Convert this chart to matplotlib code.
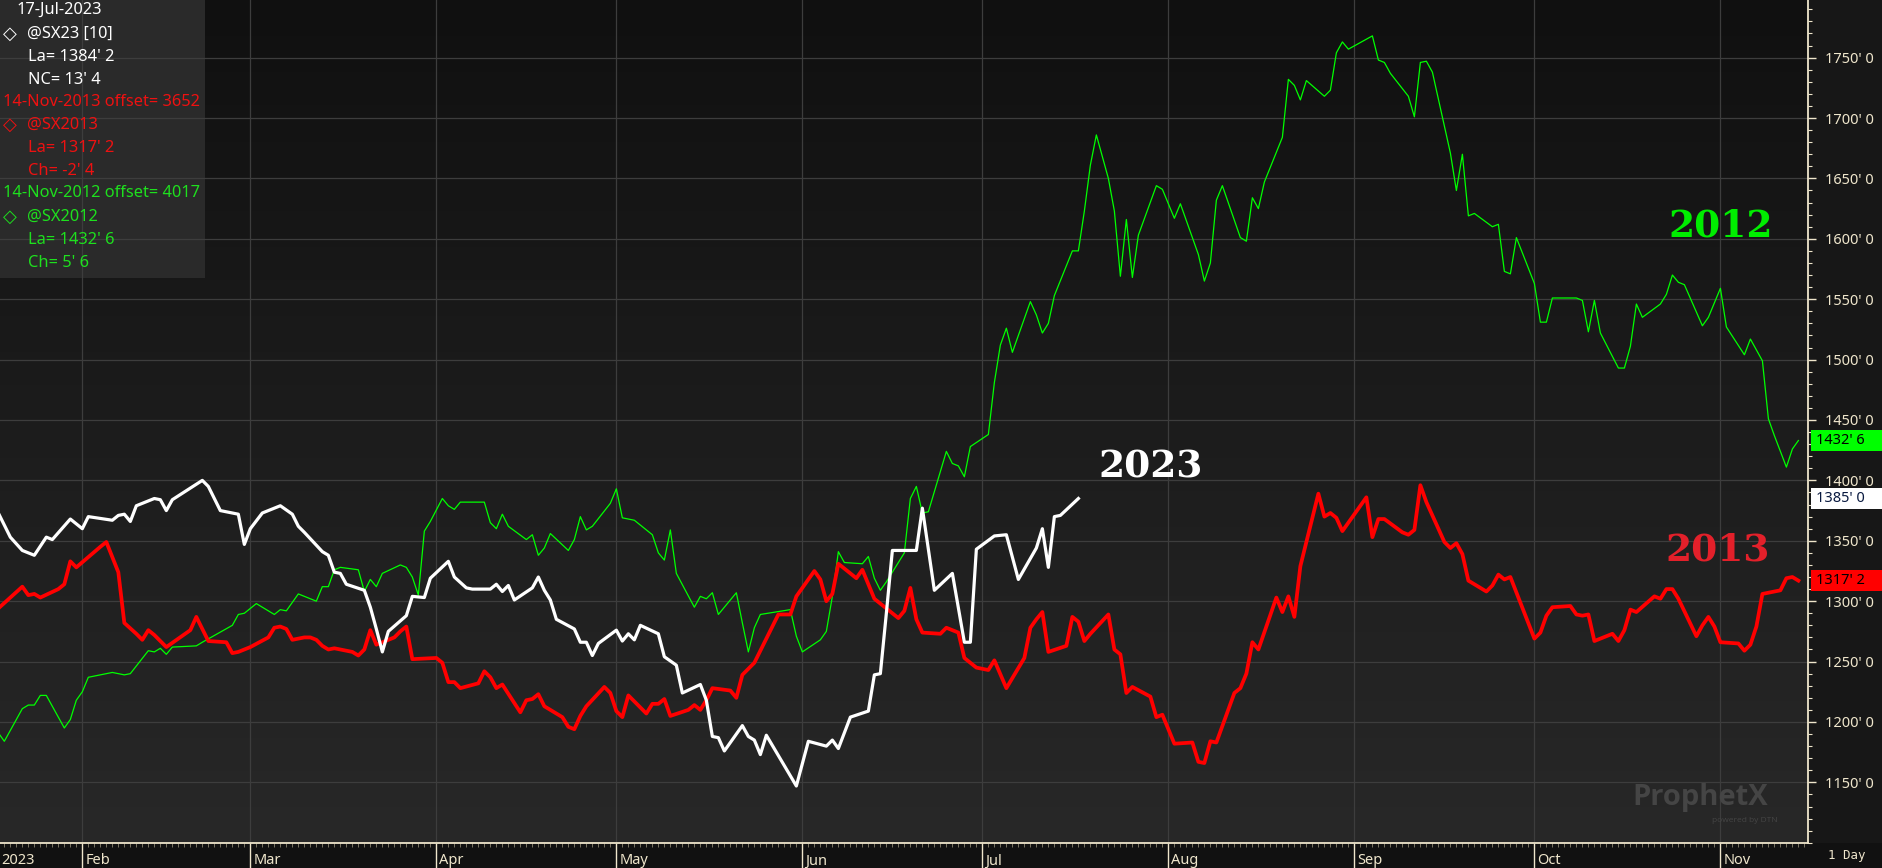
import matplotlib
matplotlib.use('Agg')
import matplotlib.pyplot as plt
import numpy as np
import matplotlib.transforms as mtransforms
from matplotlib.ticker import FuncFormatter, MultipleLocator, FixedLocator
from matplotlib.colors import LinearSegmentedColormap
from matplotlib.patches import Rectangle

# ---------------- data (x = day of year 2023, y = cents/bu) ----------------
white_day = [18,20,22,24,26,27,30,32,33,37,38,39,40,41,44,45,46,47,52,53,55,58,59,60,62,65,67,68,69,72,73,74,75,76,79,80,81,82,83,86,87,89,90,93,94,96,97,100,101,102,103,104,107,108,109,110,111,114,115,116,117,118,121,122,123,124,125,128,129,131,132,135,136,137,138,139,142,143,144,145,146,151,153,156,157,158,160,163,164,165,166,167,171,172,174,177,179,180,181,184,186,188,191,192,193,194,195,198]
white_val = [1373,1353,1342,1338,1353,1351,1368,1360,1370,1367,1371,1372,1366,1379,1385,1384,1375,1384,1400,1395,1375,1372,1347,1360,1373,1379,1372,1362,1357,1341,1338,1324,1323,1314,1309,1295,1277,1258,1275,1288,1304,1303,1319,1333,1320,1311,1310,1310,1314,1308,1313,1301,1311,1320,1309,1301,1285,1277,1266,1266,1255,1265,1276,1267,1273,1268,1280,1273,1254,1247,1224,1231,1218,1188,1187,1176,1197,1188,1185,1173,1189,1147,1184,1180,1185,1178,1204,1209,1239,1240,1290,1342,1342,1377,1309,1323,1266,1266,1343,1354,1355,1318,1344,1360,1328,1370,1371,1385]

green_day = [18,19,22,23,24,25,26,29,30,31,32,33,35,37,39,40,43,44,45,46,47,51,52,57,58,59,61,64,65,66,68,71,72,73,74,75,78,79,80,81,82,85,86,87,88,89,90,92,93,94,95,99,100,101,102,103,106,107,108,109,110,113,114,115,116,117,120,121,122,124,127,128,129,130,131,134,135,136,137,138,141,142,143,144,145,150,151,152,155,156,157,158,159,162,163,164,165,166,169,170,171,172,173,176,177,178,179,180,183,184,185,186,187,190,191,192,193,194,197,198,199,200,201,203,204,205,206,207,208,211,212,214,215,218,219,220,221,222,225,226,227,228,229,232,233,234,235,236,239,240,241,242,243,247,248,249,250,253,254,255,256,257,260,261,262,263,264,267,268,269,270,271,274,275,276,277,281,282,283,284,285,288,289,290,291,292,295,296,297,298,299,302,303,305,306,309,310,311,312,313,314,316,317,318]
green_val = [1191,1184,1211,1214,1214,1222,1222,1195,1202,1218,1225,1237,1239,1241,1239,1240,1259,1258,1261,1256,1262,1263,1266,1280,1289,1290,1298,1289,1293,1292,1306,1300,1312,1312,1326,1328,1326,1308,1318,1312,1323,1330,1328,1320,1305,1358,1366,1385,1379,1376,1382,1382,1365,1360,1372,1362,1351,1355,1338,1344,1356,1342,1351,1370,1359,1362,1381,1393,1369,1367,1355,1340,1334,1359,1323,1295,1304,1302,1307,1289,1307,1282,1258,1278,1289,1293,1271,1258,1268,1275,1304,1341,1332,1331,1337,1319,1309,1316,1340,1385,1395,1373,1374,1424,1414,1412,1403,1428,1438,1481,1512,1526,1506,1548,1537,1522,1530,1553,1590,1590,1623,1661,1686,1650,1623,1569,1616,1568,1603,1644,1641,1617,1629,1587,1565,1580,1632,1644,1601,1598,1634,1625,1647,1684,1732,1727,1715,1731,1718,1723,1754,1763,1757,1768,1748,1746,1737,1718,1701,1746,1747,1738,1671,1640,1670,1619,1621,1610,1612,1573,1571,1601,1563,1531,1531,1551,1551,1549,1523,1549,1522,1493,1493,1511,1546,1535,1546,1554,1570,1564,1562,1528,1535,1559,1527,1504,1517,1508,1499,1451,1437,1411,1426,1433]

red_day = [18,22,23,24,25,28,29,30,31,35,36,38,39,41,42,43,44,46,50,51,53,56,57,58,60,63,64,65,66,67,69,70,71,72,73,74,77,78,79,80,81,84,85,86,87,91,92,93,94,95,98,99,100,101,102,105,106,107,108,109,112,113,114,115,116,119,120,121,122,123,126,127,128,129,130,133,134,135,136,137,140,141,142,144,148,150,151,154,155,156,157,158,161,162,164,165,168,169,170,171,172,175,176,178,179,181,183,184,186,189,190,191,192,193,196,197,198,199,200,203,204,205,206,207,210,211,212,214,217,218,219,220,221,224,225,226,227,228,231,232,233,234,235,238,239,240,241,242,246,247,248,249,252,253,254,255,256,259,260,261,262,263,266,267,268,269,270,274,275,276,277,280,281,282,283,284,287,288,289,290,291,294,295,296,297,298,301,302,303,304,305,308,309,310,311,312,313,315,316,317,318]
red_val = [1294,1312,1305,1306,1303,1310,1314,1333,1328,1345,1349,1324,1282,1273,1268,1276,1272,1262,1276,1287,1267,1266,1257,1258,1262,1270,1278,1279,1277,1268,1270,1270,1268,1263,1260,1261,1258,1255,1260,1276,1264,1270,1275,1279,1252,1253,1249,1233,1233,1228,1232,1242,1237,1228,1231,1208,1218,1219,1223,1213,1204,1196,1194,1205,1213,1229,1224,1209,1204,1222,1207,1215,1215,1219,1205,1210,1214,1210,1218,1228,1226,1220,1239,1249,1289,1289,1304,1325,1318,1300,1306,1331,1319,1326,1302,1298,1286,1292,1311,1285,1274,1273,1278,1274,1253,1245,1243,1251,1228,1253,1278,1285,1291,1258,1263,1287,1283,1267,1273,1289,1260,1256,1224,1229,1221,1204,1206,1182,1183,1167,1166,1184,1183,1224,1228,1240,1266,1260,1303,1291,1304,1287,1329,1389,1370,1373,1369,1358,1386,1353,1368,1368,1357,1355,1359,1396,1382,1349,1344,1348,1339,1317,1308,1313,1322,1318,1320,1269,1274,1288,1295,1296,1289,1288,1289,1267,1273,1267,1276,1293,1291,1304,1302,1310,1310,1302,1271,1280,1287,1279,1266,1265,1259,1264,1279,1306,1307,1309,1319,1320,1317]

month_days = [32, 60, 91, 121, 152, 182, 213, 244, 274, 305]
month_labels = ['Feb', 'Mar', 'Apr', 'May', 'Jun', 'Jul', 'Aug', 'Sep', 'Oct', 'Nov']
price_ticks = [1150, 1200, 1250, 1300, 1350, 1400, 1450, 1500, 1550, 1600, 1650, 1700, 1750]

last_values = [(1432.75, "1432' 6", '#00ff00', '#000000'),
               (1385.0, "1385' 0", '#ffffff', '#0a1a40'),
               (1317.25, "1317' 2", '#ff0000', '#000000')]

legend_lines = [
    ("17-Jul-2023", '#ffffff', 16, 10, False),
    ("@SX23 [10]", '#ffffff', 27, 34, True),
    ("La= 1384' 2", '#ffffff', 28, 57, False),
    ("NC= 13' 4", '#ffffff', 28, 80, False),
    ("14-Nov-2013 offset= 3652", '#ee1111', 3, 102, False),
    ("@SX2013", '#ee1111', 27, 125, True),
    ("La= 1317' 2", '#ee1111', 28, 148, False),
    ("Ch= -2' 4", '#ee1111', 28, 171, False),
    ("14-Nov-2012 offset= 4017", '#1ee01e', 3, 193, False),
    ("@SX2012", '#1ee01e', 27, 217, True),
    ("La= 1432' 6", '#1ee01e', 28, 240, False),
    ("Ch= 5' 6", '#1ee01e', 28, 263, False),
]

# ---------------- figure ----------------
W, H = 1883, 868
cream = '#efe6cc'
fig = plt.figure(figsize=(W / 100, H / 100), dpi=100, facecolor='#171717')
ax = fig.add_axes([0, 25 / H, 1808 / W, 843 / H])

cmap = LinearSegmentedColormap.from_list('bg', ['#282828', '#101010'])
ax.imshow(np.linspace(0, 1, 256).reshape(-1, 1), extent=[0, 1, 0, 1],
          transform=ax.transAxes, cmap=cmap, aspect='auto', origin='lower', zorder=0)

# bottom strip (behind the axes)
fig.patches.append(Rectangle((0, 0), 1, 25 / H, transform=fig.transFigure,
                             facecolor='#111111', edgecolor='none', zorder=-5))

ax.plot(green_day, green_val, color='#00ff00', lw=0.9, zorder=3)
ax.plot(red_day, red_val, color='#ff0000', lw=2.7, zorder=4)
ax.plot(white_day, white_val, color='#ffffff', lw=2.3, zorder=5)

ax.set_xlim(18.28, 319.6)
ax.set_ylim(1099.8, 1797.7)

# grid
ax.set_axisbelow('line')
ax.grid(True, color='#3d3d3d', lw=0.9)
ax.yaxis.set_major_locator(FixedLocator(price_ticks))
ax.yaxis.set_minor_locator(MultipleLocator(10))
ax.set_xticks(month_days)
ax.xaxis.set_minor_locator(MultipleLocator(1))

# legend box
ax.add_patch(Rectangle((0, 1 - 278 / 843), 205 / 1808, 278 / 843, transform=ax.transAxes,
                       facecolor='#2a2a2a', edgecolor='none', zorder=1))

# spines
for s in ['top', 'left']:
    ax.spines[s].set_visible(False)
ax.spines['right'].set_color(cream)
ax.spines['right'].set_linewidth(1.3)
ax.spines['bottom'].set_color(cream)
ax.spines['bottom'].set_linewidth(1.3)

ax.yaxis.tick_right()
ax.yaxis.set_major_formatter(FuncFormatter(lambda v, p: f"{int(round(v))}' 0"))
ax.tick_params(axis='y', which='major', length=6, width=1, color=cream, labelcolor=cream,
               labelsize=10.5, pad=6)
ax.tick_params(axis='y', which='minor', length=3, width=0.8, color=cream)
ax.tick_params(axis='x', which='major', length=18, width=1, color=cream, labelbottom=False)
ax.tick_params(axis='x', which='minor', length=3, width=0.6, color='#8a8470')
for lab in ax.get_yticklabels():
    lab.set_fontfamily('Noto Sans')

# month labels
mtr = mtransforms.blended_transform_factory(ax.transData, ax.transAxes) + \
    mtransforms.ScaledTranslation(3 / 100, 0, fig.dpi_scale_trans)
for d, lab in zip(month_days, month_labels):
    ax.text(d, -18 / 843, lab, transform=mtr, color=cream, fontsize=10.5, family='Noto Sans',
            ha='left', va='center', clip_on=False)

fig.text(1 / W, 1 - 861 / H, '2023', color=cream, fontsize=10.5, family='Noto Sans',
         ha='left', va='center')
fig.text(1828 / W, 1 - 856 / H, '1 Day', color=cream, fontsize=9, family='DejaVu Sans Mono',
         ha='left', va='center')

# last value boxes
btr_fig = mtransforms.blended_transform_factory(fig.transFigure, ax.transData)
btr = mtransforms.blended_transform_factory(ax.transAxes, ax.transData)
for val, txt, fc, tc in last_values:
    ax.add_patch(Rectangle((1811 / W, val - 8.6), 72 / W, 17.2, transform=btr_fig,
                           facecolor=fc, edgecolor='none', clip_on=False, zorder=9))
    ax.text(1.0 + 8 / 1808, val, txt, transform=btr, ha='left', va='center',
            fontsize=10.5, family='Noto Sans', color=tc, clip_on=False, zorder=10)

# big labels
ax.text(210, 1411, '2023', color='#ffffff', fontsize=27, family='DejaVu Serif',
        weight='bold', ha='center', va='center', zorder=6)
ax.text(305, 1611, '2012', color='#00ee00', fontsize=27, family='DejaVu Serif',
        weight='bold', ha='center', va='center', zorder=6)
ax.text(304.5, 1342, '2013', color='#e3202a', fontsize=27, family='DejaVu Serif',
        weight='bold', ha='center', va='center', zorder=6)

# watermark
fig.text(1700 / W, 1 - 797 / H, 'ProphetX', color='#454545', fontsize=21, family='Open Sans',
         weight='bold', ha='center', va='center')
fig.text(1745 / W, 1 - 820 / H, 'powered by DTN', color='#454545', fontsize=6, family='Open Sans',
         ha='center', va='center')

# legend text
for txt, col, x, y, diamond in legend_lines:
    fig.text(x / W, 1 - y / H, txt, color=col, fontsize=11.8, family='Noto Sans',
             ha='left', va='center', zorder=20)
    if diamond:
        fig.text(9.5 / W, 1 - y / H, '\u25c7', color=col, fontsize=13, family='DejaVu Sans',
                 ha='center', va='center', zorder=20)

fig.savefig('out.png', dpi=100, facecolor=fig.get_facecolor())
